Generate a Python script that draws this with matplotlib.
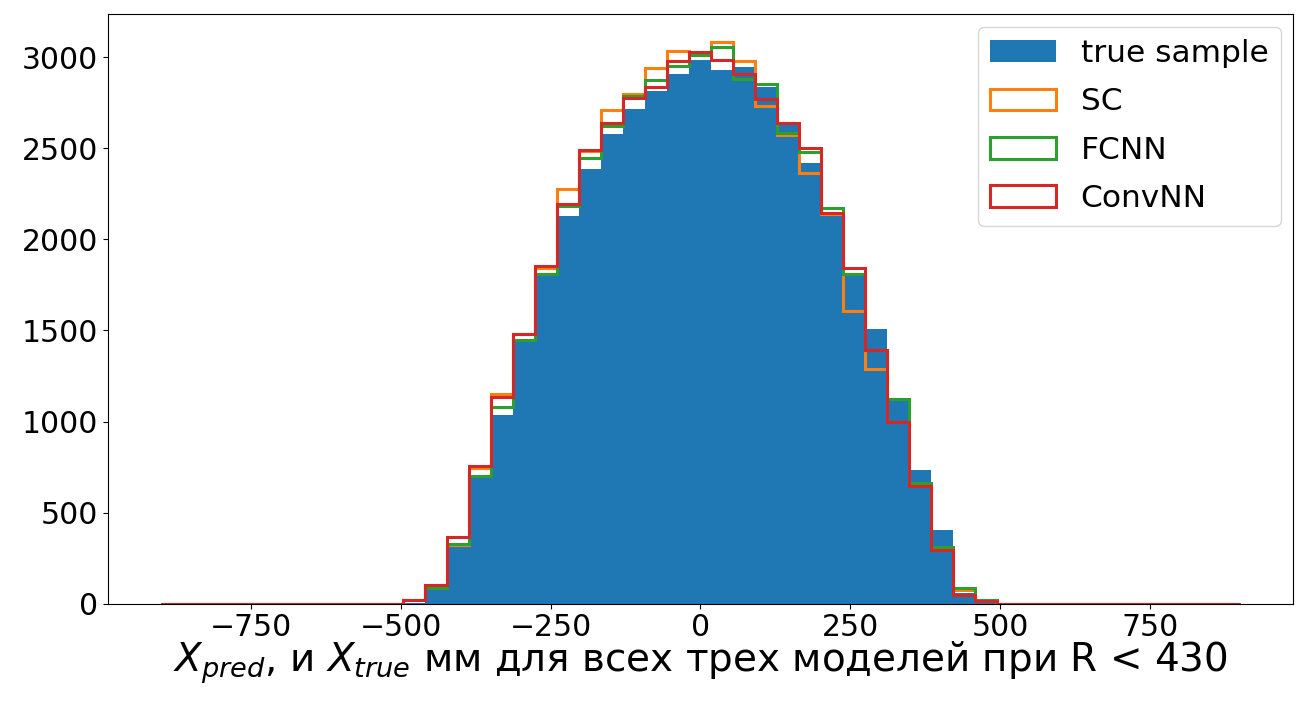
import matplotlib
matplotlib.use("Agg")
import matplotlib.pyplot as plt
import numpy as np

# Границы бинов: 49 бинов от -900 до 900 мм
bin_edges = np.linspace(-900, 900, 50)

# Число событий в бинах 11..37 (остальные бины пустые)
true_sample = [5, 78, 313, 690, 1033, 1443, 1800, 2126, 2384, 2578, 2717, 2814, 2909,
               2985, 2927, 2945, 2836, 2625, 2417, 2140, 1810, 1507, 1110, 732, 404, 60, 22]
sc_pred = [20, 95, 322, 745, 1151, 1480, 1845, 2277, 2485, 2709, 2796, 2942, 3033,
           3020, 3082, 2976, 2731, 2572, 2362, 2140, 1607, 1288, 1000, 650, 300, 73, 15]
fcnn_pred = [22, 88, 325, 701, 1082, 1447, 1809, 2180, 2448, 2621, 2785, 2876, 2949,
             3010, 3055, 2882, 2851, 2585, 2481, 2172, 1807, 1390, 1124, 660, 313, 86, 18]
convnn_pred = [22, 104, 364, 754, 1137, 1479, 1852, 2193, 2490, 2636, 2776, 2836, 2978,
               3027, 2982, 2909, 2772, 2636, 2499, 2144, 1843, 1392, 996, 645, 295, 49, 15]
first_bin = 11

labels = ["true sample", "SC", "FCNN", "ConvNN"]


def full_counts(vals):
    counts = np.zeros(len(bin_edges) - 1)
    counts[first_bin:first_bin + len(vals)] = vals
    return counts


centers = (bin_edges[:-1] + bin_edges[1:]) / 2

fig = plt.figure(figsize=(12.96, 7.02), dpi=100)
ax = fig.add_axes([0.083, 0.14, 0.915, 0.84])

ax.hist(centers, bins=bin_edges, weights=full_counts(true_sample), label=labels[0])
ax.hist(centers, bins=bin_edges, weights=full_counts(sc_pred), histtype="step",
        linewidth=2.2, label=labels[1])
ax.hist(centers, bins=bin_edges, weights=full_counts(fcnn_pred), histtype="step",
        linewidth=2.2, label=labels[2])
ax.hist(centers, bins=bin_edges, weights=full_counts(convnn_pred), histtype="step",
        linewidth=2.2, label=labels[3])

ax.set_xticks([-750, -500, -250, 0, 250, 500, 750])
ax.set_yticks([0, 500, 1000, 1500, 2000, 2500, 3000])
ax.tick_params(labelsize=21.5)
ax.set_xlabel("$X_{pred}$, и $X_{true}$ мм для всех трех моделей при R < 430",
              fontsize=28, labelpad=-2)
ax.legend(fontsize=22.5, handlelength=2.1, borderaxespad=0.4, labelspacing=0.62)

fig.savefig("out.png", dpi=100)
